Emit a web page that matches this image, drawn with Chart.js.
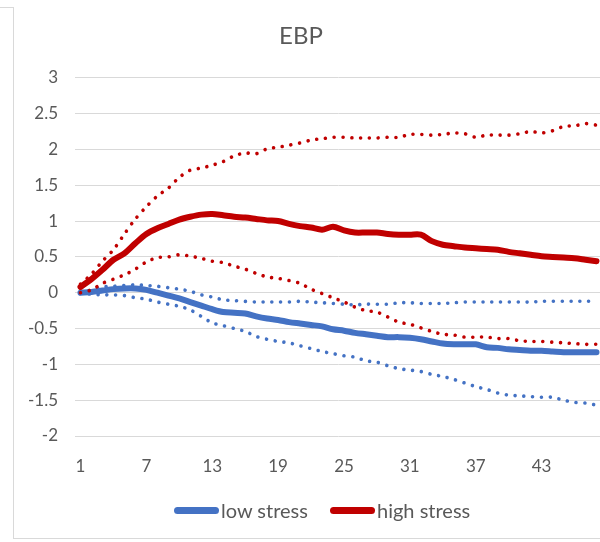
<!DOCTYPE html>
<html>
<head>
<meta charset="utf-8">
<title>EBP</title>
<script src="https://cdn.jsdelivr.net/npm/chart.js@4/dist/chart.umd.min.js"></script>
<style>
  html, body { margin: 0; padding: 0; background: #fff; overflow: hidden; width: 600px; height: 542px; }
  #wrap { position: relative; width: 600px; height: 542px; overflow: hidden; }
  #c { position: absolute; left: 0; top: 0; }
  .frame { position: absolute; background: #d9d9d9; }
  .legend-item { position: absolute; top: 497px; height: 26px; display: flex; align-items: center;
                 font-family: Lato, "Open Sans", sans-serif; font-size: 20px; color: #595959; white-space: nowrap; }
  .swatch { width: 45px; height: 7px; border-radius: 3.5px; margin-right: 2px; }
</style>
</head>
<body>
<div id="wrap">
  <canvas id="c" width="602" height="542"></canvas>
  <div class="frame" style="left:0;top:7px;width:14px;height:1px"></div>
  <div class="frame" style="left:13px;top:7px;width:1px;height:532px"></div>
  <div class="frame" style="left:13px;top:538px;width:600px;height:1px"></div>
  <div id="legend"></div>
</div>
<script>
// Horizon (periods after the shock)
const periods = ['1','2','3','4','5','6','7','8','9','10','11','12','13','14','15','16',
  '17','18','19','20','21','22','23','24','25','26','27','28','29','30','31','32',
  '33','34','35','36','37','38','39','40','41','42','43','44','45','46','47','48'];
const shownTicks = ['1','7','13','19','25','31','37','43'];

// Low-stress regime: response and confidence band
const lowStress = [0.00,0.01,0.03,0.05,0.06,0.06,0.04,0.00,-0.04,-0.08,-0.13,-0.18,-0.23,-0.27,-0.28,-0.29,
  -0.33,-0.36,-0.38,-0.41,-0.43,-0.45,-0.47,-0.51,-0.53,-0.56,-0.58,-0.60,-0.62,-0.62,-0.63,-0.65,
  -0.68,-0.71,-0.72,-0.72,-0.72,-0.76,-0.77,-0.79,-0.80,-0.81,-0.81,-0.82,-0.83,-0.83,-0.83,-0.83];
const lowUpper = [0.00,0.04,0.08,0.09,0.10,0.11,0.10,0.09,0.07,0.05,0.02,-0.03,-0.06,-0.10,-0.11,-0.12,
  -0.13,-0.13,-0.13,-0.13,-0.12,-0.13,-0.14,-0.15,-0.16,-0.17,-0.16,-0.16,-0.16,-0.14,-0.14,-0.15,
  -0.15,-0.15,-0.14,-0.13,-0.13,-0.13,-0.13,-0.13,-0.13,-0.13,-0.12,-0.12,-0.12,-0.12,-0.12,-0.12];
const lowLower = [-0.01,-0.02,-0.03,-0.03,-0.04,-0.07,-0.09,-0.13,-0.16,-0.19,-0.24,-0.33,-0.42,-0.46,-0.50,-0.54,
  -0.61,-0.65,-0.68,-0.70,-0.74,-0.78,-0.82,-0.85,-0.88,-0.90,-0.95,-0.97,-1.02,-1.06,-1.08,-1.10,
  -1.14,-1.17,-1.21,-1.26,-1.31,-1.35,-1.40,-1.43,-1.44,-1.45,-1.46,-1.46,-1.50,-1.53,-1.54,-1.57];

// High-stress regime: response and confidence band
const highStress = [0.08,0.19,0.32,0.46,0.55,0.69,0.82,0.90,0.96,1.02,1.06,1.09,1.10,1.08,1.06,1.05,
  1.03,1.01,1.00,0.96,0.93,0.91,0.88,0.92,0.87,0.84,0.84,0.84,0.82,0.81,0.81,0.81,
  0.72,0.67,0.65,0.63,0.62,0.61,0.60,0.57,0.55,0.53,0.51,0.50,0.49,0.48,0.46,0.44];
const highUpper = [0.12,0.26,0.44,0.60,0.82,1.03,1.20,1.35,1.46,1.61,1.71,1.74,1.78,1.83,1.91,1.95,
  1.94,2.01,2.03,2.06,2.09,2.13,2.15,2.17,2.17,2.16,2.16,2.16,2.17,2.17,2.21,2.21,
  2.20,2.21,2.23,2.22,2.17,2.20,2.20,2.20,2.22,2.25,2.23,2.26,2.32,2.33,2.36,2.34];
const highLower = [0.00,0.04,0.13,0.19,0.25,0.33,0.43,0.49,0.50,0.53,0.51,0.48,0.44,0.42,0.37,0.33,
  0.27,0.22,0.20,0.17,0.13,0.05,-0.01,-0.07,-0.13,-0.20,-0.25,-0.27,-0.34,-0.41,-0.44,-0.49,
  -0.54,-0.58,-0.59,-0.62,-0.62,-0.62,-0.64,-0.64,-0.67,-0.68,-0.68,-0.69,-0.70,-0.71,-0.72,-0.72];

const BLUE = '#4472C4';
const RED = '#C00000';
const TEXT = '#595959';
const FONT = 'Lato, "Open Sans", sans-serif';

function meanLine(label, data, color, order) {
  return { label, data, borderColor: color, backgroundColor: color, borderWidth: 6,
    pointRadius: 0, tension: 0.3, borderCapStyle: 'round', borderJoinStyle: 'round',
    fill: false, order, inLegend: true };
}
function bandLine(label, data, color, order) {
  return { label, data, borderColor: color, backgroundColor: color, borderWidth: 3.6,
    borderDash: [0.01, 8.8], borderCapStyle: 'round', pointRadius: 0, tension: 0.3,
    fill: false, order, inLegend: false };
}

const datasets = [
  meanLine('low stress', lowStress, BLUE, 2),
  bandLine('low stress upper', lowUpper, BLUE, 3),
  bandLine('low stress lower', lowLower, BLUE, 3),
  meanLine('high stress', highStress, RED, 0),
  bandLine('high stress upper', highUpper, RED, 1),
  bandLine('high stress lower', highLower, RED, 1)
];

new Chart(document.getElementById('c'), {
  type: 'line',
  data: { labels: periods, datasets },
  options: {
    responsive: false,
    animation: false,
    layout: { padding: { left: 0, right: 0, top: 0, bottom: 0 } },
    plugins: {
      legend: { display: false },
      tooltip: { enabled: false },
      title: {
        display: true, text: 'EBP', color: TEXT,
        font: { family: FONT, size: 24, weight: 'normal', lineHeight: 1.2 },
        padding: { top: 22, bottom: 27 }
      }
    },
    scales: {
      x: {
        type: 'category', offset: true,
        grid: { display: false }, border: { display: false },
        ticks: {
          autoSkip: false, maxRotation: 0, minRotation: 0, padding: 12, color: TEXT,
          font: { family: FONT, size: 17 },
          callback: function (value) {
            const lab = this.getLabelForValue(value);
            return shownTicks.includes(lab) ? lab : '';
          }
        },
        afterFit: (scale) => { scale.height = 106; scale.paddingLeft = 0; scale.paddingRight = 0; }
      },
      y: {
        min: -2, max: 3,
        grid: { color: '#d9d9d9', lineWidth: 1, drawTicks: false },
        border: { display: false },
        ticks: {
          stepSize: 0.5, padding: 17, color: TEXT, font: { family: FONT, size: 17 },
          callback: (value) => String(Math.round(value * 10) / 10)
        },
        afterFit: (scale) => { scale.width = 75; scale.paddingTop = 0; scale.paddingBottom = 0; }
      }
    }
  }
});

// Legend for the two response lines
const legend = document.getElementById('legend');
const legendPos = { 'low stress': 174, 'high stress': 330 };
datasets.filter(d => d.inLegend).forEach(d => {
  const item = document.createElement('div');
  item.className = 'legend-item';
  item.style.left = legendPos[d.label] + 'px';
  const sw = document.createElement('span');
  sw.className = 'swatch';
  sw.style.background = d.borderColor;
  const tx = document.createElement('span');
  tx.textContent = d.label;
  item.appendChild(sw);
  item.appendChild(tx);
  legend.appendChild(item);
});
</script>
</body>
</html>
